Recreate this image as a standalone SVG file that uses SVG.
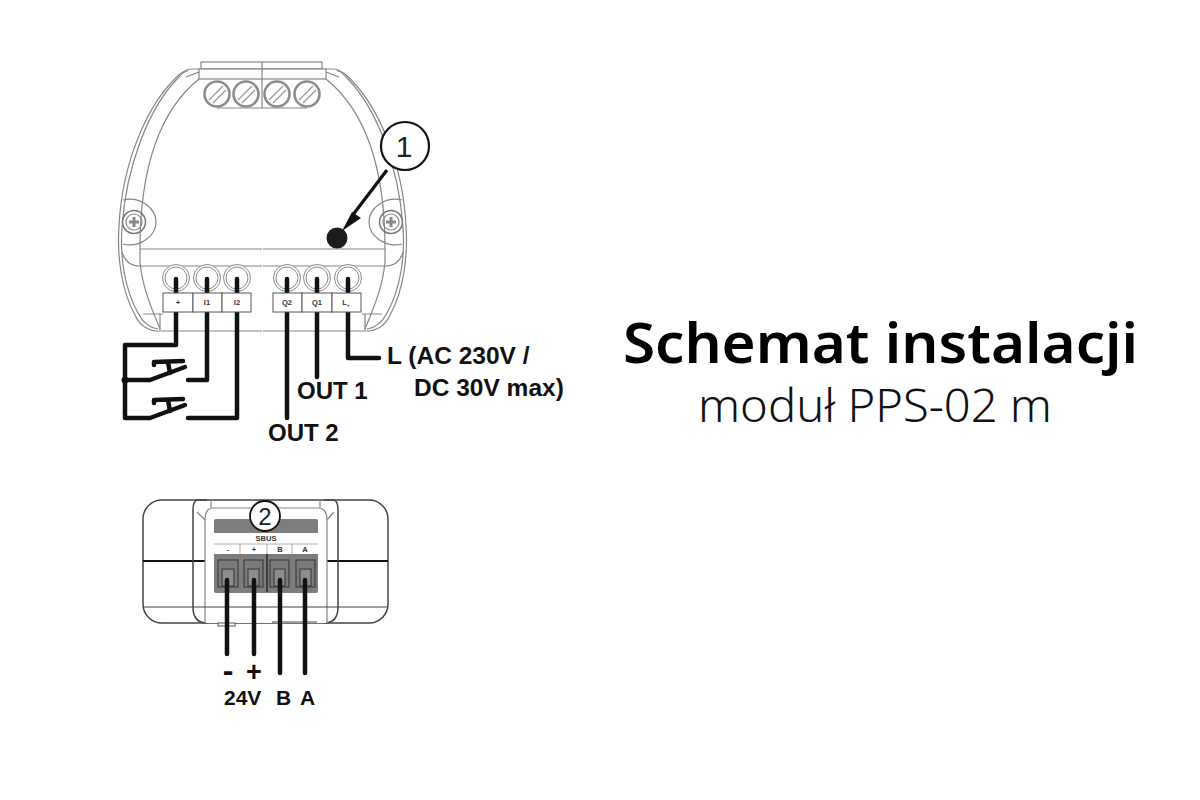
<svg xmlns="http://www.w3.org/2000/svg" width="1200" height="800" viewBox="0 0 1200 800">
<defs>
<style>
.h{fill:none;stroke:#858585;stroke-width:1.2}
.h2{fill:none;stroke:#444;stroke-width:1.5}
.w{fill:none;stroke:#111;stroke-width:4.5;stroke-linejoin:round;stroke-linecap:round}
.b{font-family:"Liberation Sans",Arial,sans-serif;font-weight:bold;fill:#111}
.t{font-family:"Liberation Sans",Arial,sans-serif;font-weight:bold;fill:#333;text-anchor:middle;font-size:7.5px}
.box{fill:#fff;stroke:#555;stroke-width:1}
</style>
<g id="half">
<path class="h" d="M199,69H193Q186,69 180,74C146,104 122,165 119,226C117,255 121,290 135,315Q141,329 156,331H262"/>
<path class="h" d="M188,71Q184,71 180,76C149,106 126,166 122,228C120,255 124,288 138,313Q145,327 158,329"/>
<path class="h" d="M199,79C158,112 140,170 140,249V262C142,285 150,305 160,329"/>
<path class="h" d="M199,72L186,77"/>
<path class="h" d="M160,314V330M143,314H163"/>
<path class="h" d="M140,249H262M122,252Q126,266 140,266H262"/>
<path class="h" d="M123,200C140,196 156,208 156,222C156,236 140,248 123,244"/>
<circle class="h2" style="stroke:#777" cx="134" cy="222" r="11.5"/><circle class="h" cx="134" cy="222" r="8"/>
<path d="M129,222H139M134,217V227" fill="none" stroke="#888" stroke-width="3"/>
</g>
<g id="screw">
<circle r="12.5" fill="#fff" stroke="#8c8c8c" stroke-width="2.6"/>
<path d="M-8,6L6,-8M-4,9L9,-4" stroke="#999" stroke-width="1.3"/>
</g>
<g id="term">
<circle r="13.5" fill="#fff" stroke="#8c8c8c" stroke-width="1"/>
<circle r="11" fill="#fff" stroke="#8c8c8c" stroke-width="1"/>
</g>
</defs>
<rect width="1200" height="800" fill="#fff"/>

<g id="module-top">
<use href="#half"/>
<use href="#half" transform="matrix(-1 0 0 1 525 0)"/>
<rect class="h" x="201" y="62" width="121" height="7"/>
<rect class="h" x="199" y="69" width="127" height="10" style="fill:#fff"/>
<path class="h" d="M217,108H307M262,62V108"/>
<use href="#screw" x="217" y="94"/>
<use href="#screw" x="246" y="94"/>
<use href="#screw" x="277" y="94"/>
<use href="#screw" x="307" y="94"/>
</g>

<g id="terminals-top">
<use href="#term" x="176" y="278"/><use href="#term" x="207" y="278"/><use href="#term" x="237" y="278"/>
<use href="#term" x="287" y="278"/><use href="#term" x="317" y="278"/><use href="#term" x="348" y="278"/>
</g>

<g id="module-bottom">
<rect class="h2" x="143" y="500" width="245" height="123" rx="19" style="fill:#fff"/>
<path d="M143,561H388" stroke="#111" stroke-width="2"/>
<path class="h2" d="M207,500H198Q193,500 193,510V607Q193,623 207,623M324,500H333Q338,500 338,510V607Q338,623 324,623"/>
<path class="h" d="M205,623V520Q205,508 213,508H318Q327,508 327,520V623" style="fill:#fff"/>
<path class="h" d="M197,512L205,520M211,500V508M320,500V508M334,512L327,520"/>
<path d="M143,607H388" stroke="#444" stroke-width="1.2"/>
<rect x="218" y="623" width="17" height="3" fill="#fff" stroke="#555"/>
<path d="M272,622H317" stroke="#444" stroke-width="1.2"/>
</g>

<g id="terminal-bottom">
<rect x="214" y="519" width="104" height="74" rx="2" fill="#7d7d7d"/>
<rect x="214" y="533" width="104" height="21" fill="#fff"/>
<path d="M214,544H318M240,544V554M267,544V554M292,544V554" stroke="#999" stroke-width="0.8"/>
<path d="M267,554V592" stroke="#111" stroke-width="1.2"/>
<g fill="#7a7a7a" stroke="#333" stroke-width="1">
<rect x="218" y="560" width="20" height="27"/><rect x="244" y="560" width="19" height="27"/><rect x="270" y="560" width="19" height="27"/><rect x="296" y="560" width="19" height="27"/>
</g>
<g fill="#8d8d8d" stroke="#333" stroke-width="1">
<rect x="222" y="569" width="12" height="17"/><rect x="248" y="569" width="11" height="17"/><rect x="274" y="569" width="11" height="17"/><rect x="300" y="569" width="11" height="17"/>
</g>
<text class="t" x="266" y="541">SBUS</text>
<text class="t" x="228" y="552">-</text><text class="t" x="254" y="552">+</text><text class="t" x="280" y="552">B</text><text class="t" x="305" y="552">A</text>
<circle cx="265" cy="516" r="15" fill="#fff" stroke="#111" stroke-width="1.8"/>
<text x="265" y="525" font-family="Liberation Sans,Arial,sans-serif" font-size="24" text-anchor="middle" fill="#222">2</text>
</g>

<g id="connectors">
<path class="w" d="M176,279V345H125V418H150L185,405"/>
<path class="w" d="M125,380H150L185,367"/>
<path class="w" d="M207,279V380H188"/>
<path class="w" d="M237,279V418H188"/>
<path class="w" d="M154,365V362L183,361M168,362L170,373"/>
<path class="w" d="M154,403V400L183,399M168,400L170,411"/>
<path class="w" d="M287,279V418"/>
<path class="w" d="M317,279V377"/>
<path class="w" d="M348,279V358H379"/>
<circle cx="125" cy="380" r="3.5" fill="#111"/>
<path class="w" d="M227,580V654M254,580V654M280,580V673M305,580V673"/>
<path d="M387,170L352,216" stroke="#111" stroke-width="3.2" fill="none"/>
<path d="M342,231L352,212L361,218Z" fill="#111"/>
</g>

<g id="labels-top">
<rect class="box" x="163" y="293" width="30" height="19"/><rect class="box" x="193" y="293" width="29" height="19"/><rect class="box" x="222" y="293" width="29" height="19"/>
<rect class="box" x="273" y="293" width="29" height="19"/><rect class="box" x="302" y="293" width="30" height="19"/><rect class="box" x="332" y="293" width="29" height="19"/>
<text class="t" x="178" y="305">+</text><text class="t" x="207" y="305">I1</text><text class="t" x="237" y="305">I2</text>
<text class="t" x="287" y="305">Q2</text><text class="t" x="317" y="305">Q1</text><text class="t" x="346" y="305">L<tspan font-size="5" dy="2">+</tspan></text>
</g>

<g id="dot-1">
<circle cx="337" cy="238" r="10.5" fill="#1c1c1c"/>
<circle cx="405" cy="146" r="24" fill="#fff" stroke="#111" stroke-width="2.2"/>
<text x="404" y="157" font-family="Liberation Sans,Arial,sans-serif" font-size="30" text-anchor="middle" fill="#222">1</text>
</g>

<g id="out-labels">
<text class="b" x="387" y="364" font-size="24.5">L (AC 230V /</text>
<text class="b" x="414" y="396" font-size="24.5">DC 30V max)</text>
<text class="b" x="297" y="399" font-size="24">OUT 1</text>
<text class="b" x="268" y="441" font-size="24">OUT 2</text>
</g>

<g id="bus-labels">
<text class="b" x="228" y="681" font-size="32" text-anchor="middle">-</text>
<text class="b" x="254" y="681" font-size="27" text-anchor="middle">+</text>
<text class="b" x="224" y="705" font-size="21">24V</text>
<text class="b" x="276" y="705" font-size="21">B</text>
<text class="b" x="300" y="705" font-size="21">A</text>
</g>

<g id="title">
<text x="623" y="363" font-family="Noto Sans,sans-serif" font-weight="600" font-size="56" textLength="515" lengthAdjust="spacingAndGlyphs" fill="#000">Schemat instalacji</text>
<text x="698" y="422" font-family="Noto Sans,sans-serif" font-weight="300" font-size="45" textLength="354" lengthAdjust="spacingAndGlyphs" fill="#111">moduł PPS-02 m</text>
</g>
</svg>
